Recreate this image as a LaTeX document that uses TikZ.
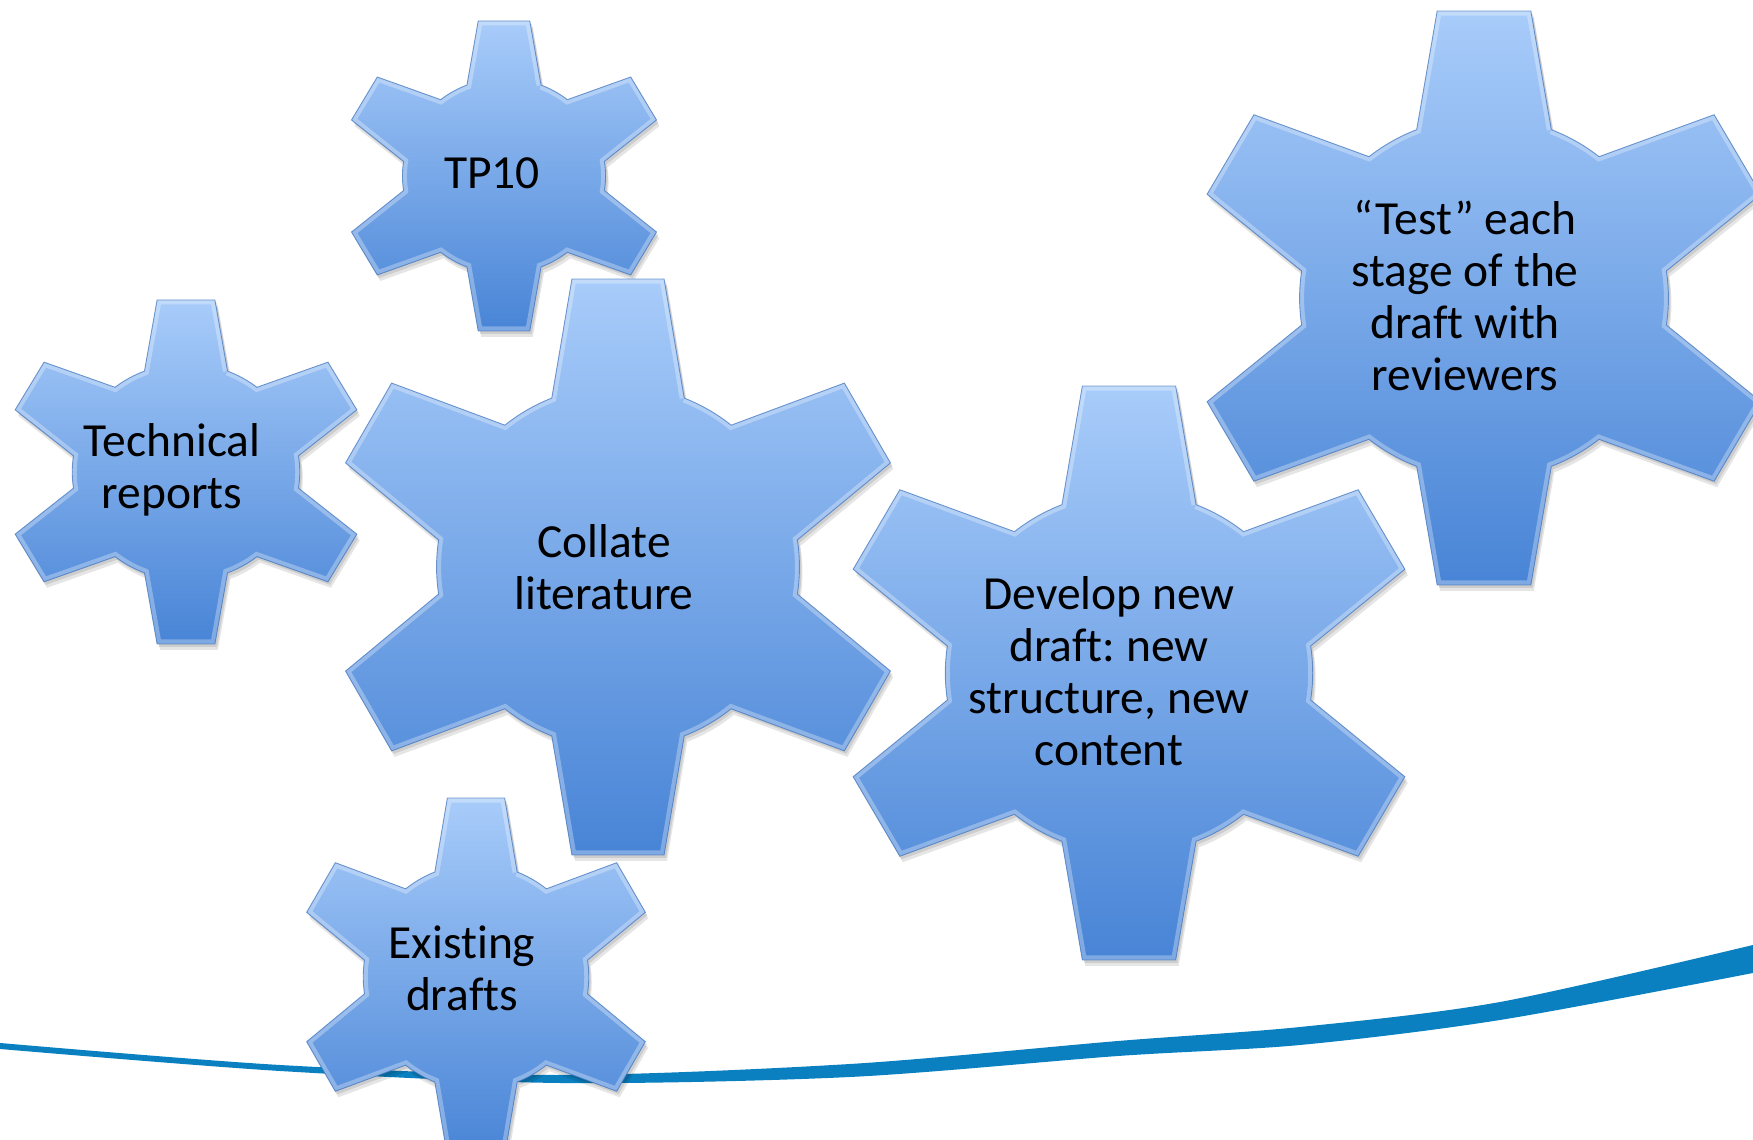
\documentclass[tikz,border=0pt]{standalone}
\usepackage{fontspec}
\setmainfont{Carlito}[Ligatures=NoCommon]
\frenchspacing
\definecolor{gTop}{HTML}{A8CCFA}
\definecolor{gMid}{HTML}{88B3EF}
\definecolor{gBot}{HTML}{4884D6}
\definecolor{gLine}{HTML}{3E72BC}
\definecolor{swoosh}{HTML}{0A80C0}
\tikzset{
  gtext/.style={align=center,text=black,font=\fontsize{47.5}{52}\selectfont,inner sep=0pt},
}
\def\gearshape{(68.59:0.63) \foreach \a in {90,150,...,390} { -- (\a-9.09:1.0127) -- (\a+9.09:1.0127) -- (\a+21.41:0.63) arc[start angle=\a+21.41, end angle=\a+38.59, radius=0.63] } -- cycle}
% #1,#2 centre, #3 radius, #4 extra horizontal stretch
\newcommand{\mkgear}[4]{%
  \begin{scope}[shift={(#1+2,#2-3)},xscale=#3*#4,yscale=#3]
    \fill[black,opacity=0.10] \gearshape;
  \end{scope}
  \begin{scope}[shift={(#1+3,#2-6)},xscale=#3*#4,yscale=#3]
    \fill[black,opacity=0.10] \gearshape;
  \end{scope}
  \begin{scope}[shift={(#1,#2)},xscale=#3*#4,yscale=#3]
    \shade[top color=gTop,middle color=gMid,bottom color=gBot] \gearshape;
    \begin{scope}
      \clip \gearshape;
      \draw[white,opacity=0.30,line width=9pt,line join=miter] \gearshape;
    \end{scope}
    \draw[gLine,opacity=0.7,line width=0.9pt,line join=miter] \gearshape;
  \end{scope}}
\begin{document}
\begin{tikzpicture}[x=1pt,y=1pt]
\useasboundingbox (0,0) rectangle (1753,1140);
\clip (0,0) rectangle (1753,1140);
\fill[white] (0,0) rectangle (1753,1140);

% swoosh
\fill[swoosh] plot[smooth] coordinates {(0,97) (280,75) (560,65) (850,76) (1118,99) (1300,113) (1500,138) (1753,195)}
  -- plot[smooth] coordinates {(1753,167) (1500,120) (1300,95) (1118,84) (850,63) (560,57) (280,69) (0,91)} -- cycle;

% gears
\mkgear{504}{964}{155}{1.04}
\node[gtext] (tp) at (492,967) {TP10};

\mkgear{186}{668}{172}{1.05}
\node[gtext] (tr) at (172,670) {Technical\\reports};

\mkgear{618}{573}{288}{1.0}
\node[gtext] (cl) at (604,573) {Collate\\literature};

\mkgear{476}{163}{179}{1.0}
\node[gtext] (ed) at (462,172) {Existing\\drafts};

\mkgear{1129}{467}{287}{1.016}
\node[gtext] (dv) at (1109,469) {Develop new\\draft: new\\structure, new\\content};

\mkgear{1484}{842}{287}{1.02}
\node[gtext] (ts) at (1465,844) {“Test” each\\stage of the\\draft with\\reviewers};
\end{tikzpicture}
\end{document}
